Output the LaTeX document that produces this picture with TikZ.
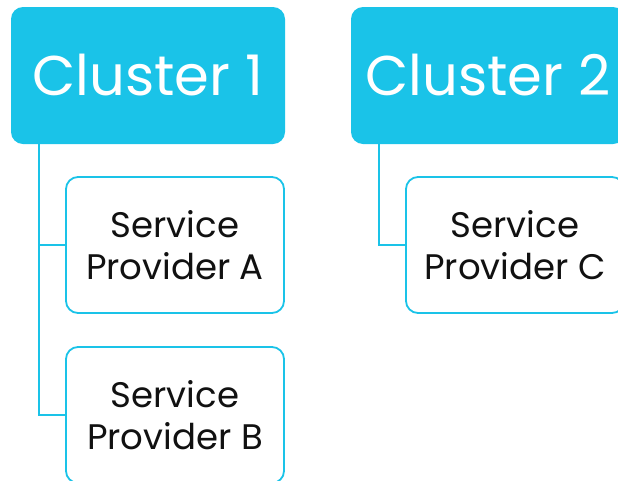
\documentclass[tikz,border=0pt]{standalone}
\usepackage{fontspec}
\setmainfont{Poppins}
\definecolor{cyanbox}{HTML}{1AC3E8}
\definecolor{txt}{HTML}{111111}
\tikzset{
  clusterbox/.style={fill=cyanbox, draw=none, rounded corners=12pt, minimum width=274pt, minimum height=137pt, inner sep=0pt, text=white, font=\fontsize{56}{62}\selectfont},
  provbox/.style={fill=white, draw=cyanbox, line width=1.8pt, rounded corners=12pt, minimum width=218pt, minimum height=136pt, inner sep=0pt, text=txt, align=center, font=\fontsize{35.5}{42}\selectfont},
  link/.style={draw=cyanbox, line width=2pt}
}
\begin{document}
\begin{tikzpicture}[x=1pt,y=-1pt]
\useasboundingbox (0,0) rectangle (618,480);
\clip (0,0) rectangle (618,480);
\node[clusterbox] (c1) at (148,75.5) {\raisebox{1pt}{Cluster 1}};
\node[clusterbox] (c2) at (488,75.5) {\raisebox{1pt}{Cluster 2}};
\node[provbox] (pa) at (175,245) {Service\\Provider A};
\node[provbox] (pb) at (175,415) {Service\\Provider B};
\node[provbox] (pc) at (515,245) {Service\\Provider C};
\draw[link] ([xshift=28pt]c1.south west) |- (pa.west);
\draw[link] ([xshift=28pt]c1.south west) |- (pb.west);
\draw[link] ([xshift=28pt]c2.south west) |- (pc.west);
\end{tikzpicture}
\end{document}
